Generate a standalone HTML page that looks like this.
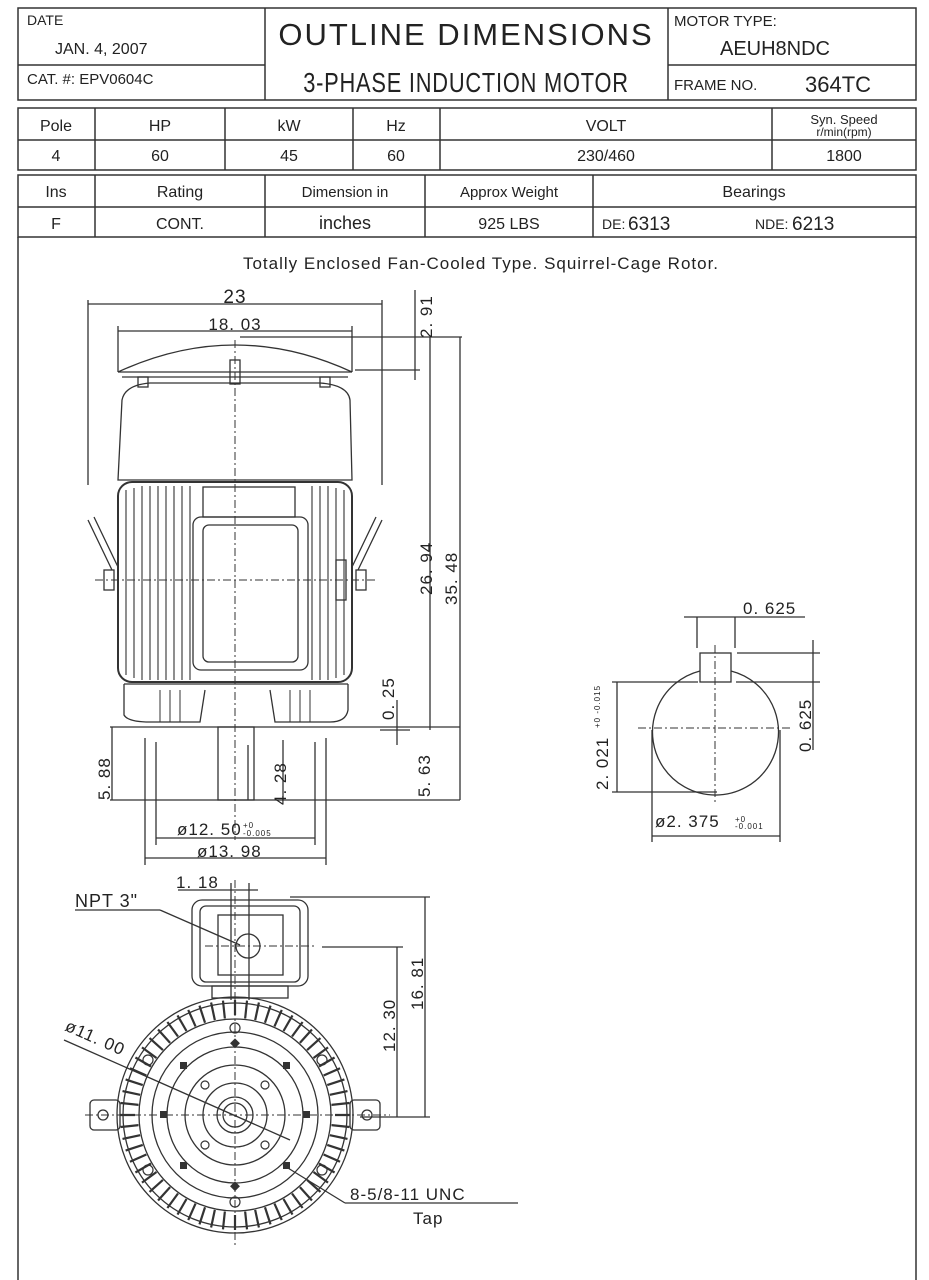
<!DOCTYPE html>
<html><head><meta charset="utf-8"><style>
html,body{margin:0;padding:0;background:#fff;}
svg{display:block;}
text{font-family:"Liberation Sans",sans-serif;fill:#222;}
.n{font-family:"Liberation Sans Narrow","Liberation Sans",sans-serif;}
</style></head><body>
<svg width="929" height="1280" viewBox="0 0 929 1280" xmlns="http://www.w3.org/2000/svg">
<g stroke="#333" fill="none" stroke-width="1.5">
<rect x="18" y="8" width="898" height="92"/>
<line x1="265" y1="8" x2="265" y2="100"/><line x1="668" y1="8" x2="668" y2="100"/>
<line x1="18" y1="65" x2="265" y2="65"/><line x1="668" y1="65" x2="916" y2="65"/>
<rect x="18" y="108" width="898" height="62"/>
<line x1="18" y1="140" x2="916" y2="140"/>
<line x1="95" y1="108" x2="95" y2="170"/><line x1="225" y1="108" x2="225" y2="170"/>
<line x1="353" y1="108" x2="353" y2="170"/><line x1="440" y1="108" x2="440" y2="170"/>
<line x1="772" y1="108" x2="772" y2="170"/>
<rect x="18" y="175" width="898" height="62"/>
<line x1="18" y1="207" x2="916" y2="207"/>
<line x1="95" y1="175" x2="95" y2="237"/><line x1="265" y1="175" x2="265" y2="237"/>
<line x1="425" y1="175" x2="425" y2="237"/><line x1="593" y1="175" x2="593" y2="237"/>
<line x1="18" y1="237" x2="18" y2="1280"/><line x1="916" y1="237" x2="916" y2="1280"/>
</g>
<g font-size="15">
<text x="27" y="25" font-size="14">DATE</text>
<text x="55" y="54" font-size="16">JAN.  4,  2007</text>
<text x="27" y="84" font-size="15">CAT.  #:   EPV0604C</text>
<text x="466" y="45" font-size="31" text-anchor="middle" letter-spacing="2" class="n">OUTLINE DIMENSIONS</text>
<text class="n" x="466" y="92" font-size="28" text-anchor="middle" letter-spacing="1" transform="translate(466,0) scale(0.78,1) translate(-466,0)">3-PHASE  INDUCTION  MOTOR</text>
<text x="674" y="26" font-size="15">MOTOR TYPE:</text>
<text x="775" y="55" font-size="20" text-anchor="middle">AEUH8NDC</text>
<text x="674" y="90" font-size="15">FRAME NO.</text>
<text x="805" y="92" font-size="22">364TC</text>
<g font-size="16" text-anchor="middle">
<text x="56" y="131">Pole</text><text x="160" y="131">HP</text><text x="289" y="131">kW</text><text x="396" y="131">Hz</text><text x="606" y="131">VOLT</text>
<text x="56" y="161">4</text><text x="160" y="161">60</text><text x="289" y="161">45</text><text x="396" y="161">60</text><text x="606" y="161">230/460</text><text x="844" y="161">1800</text>
<text x="56" y="197">Ins</text><text x="180" y="197">Rating</text><text x="345" y="197" font-size="15">Dimension in</text><text x="509" y="197" font-size="15">Approx Weight</text><text x="754" y="197">Bearings</text>
<text x="56" y="229">F</text><text x="180" y="229">CONT.</text><text x="345" y="229" font-size="18">inches</text><text x="509" y="229">925 LBS</text>
</g>
<text x="844" y="124" font-size="13" text-anchor="middle">Syn. Speed</text>
<text x="844" y="136" font-size="12" text-anchor="middle">r/min(rpm)</text>
<text x="602" y="229" font-size="14">DE:</text><text x="628" y="230" font-size="19">6313</text>
<text x="755" y="229" font-size="14">NDE:</text><text x="792" y="230" font-size="19">6213</text>
<text x="481" y="269" font-size="17" text-anchor="middle" letter-spacing="1">Totally Enclosed Fan-Cooled Type.  Squirrel-Cage Rotor.</text>
</g>

<g stroke="#333" fill="none" stroke-width="1.3">
<line x1="88" y1="304" x2="382" y2="304"/><line x1="88" y1="300" x2="88" y2="485"/><line x1="382" y1="300" x2="382" y2="485"/>
<line x1="118" y1="331" x2="352" y2="331"/><line x1="118" y1="326" x2="118" y2="372"/><line x1="352" y1="326" x2="352" y2="372"/>
<path d="M118 372 Q235 318 352 372"/>
<line x1="118" y1="372" x2="352" y2="372"/><line x1="122" y1="377" x2="348" y2="377"/>
<rect x="230" y="360" width="10" height="24"/>
<line x1="240" y1="337" x2="462" y2="337"/><line x1="355" y1="370" x2="420" y2="370"/>
<line x1="415" y1="290" x2="415" y2="380"/><line x1="460" y1="337" x2="460" y2="800"/>
<line x1="430" y1="337" x2="430" y2="730"/>
<path d="M122 400 Q125 385 150 383 L320 383 Q348 385 350 400 L352 480 L118 480 Z"/>
<rect x="138" y="377" width="10" height="10"/><rect x="320" y="377" width="10" height="10"/>
<rect x="118" y="482" width="234" height="200" rx="14" stroke-width="2"/>
<g stroke-width="1.1">
<line x1="126" y1="490" x2="126" y2="675"/><line x1="134" y1="488" x2="134" y2="678"/><line x1="142" y1="486" x2="142" y2="680"/><line x1="150" y1="486" x2="150" y2="680"/><line x1="158" y1="486" x2="158" y2="680"/><line x1="166" y1="486" x2="166" y2="680"/><line x1="174" y1="486" x2="174" y2="680"/><line x1="182" y1="486" x2="182" y2="680"/><line x1="190" y1="486" x2="190" y2="680"/>
<line x1="312" y1="486" x2="312" y2="680"/><line x1="320" y1="486" x2="320" y2="680"/><line x1="328" y1="486" x2="328" y2="680"/><line x1="336" y1="488" x2="336" y2="678"/><line x1="344" y1="490" x2="344" y2="675"/>
</g>
<rect x="203" y="487" width="92" height="30"/>
<rect x="193" y="517" width="115" height="153" rx="8"/>
<rect x="203" y="525" width="95" height="137" rx="6"/>
<rect x="336" y="560" width="10" height="40"/>
<path d="M88 520 L112 570 M94 517 L118 567"/><path d="M382 520 L358 570 M376 517 L352 567"/>
<rect x="104" y="570" width="10" height="20"/><rect x="356" y="570" width="10" height="20"/>
<path d="M124 684 L124 715 Q128 722 150 722 L200 722 L205 690 M270 690 L275 722 L330 722 Q346 722 348 710 L348 684"/>
<line x1="124" y1="684" x2="348" y2="684"/>
<g stroke-width="1"><line x1="160" y1="690" x2="160" y2="722"/><line x1="170" y1="690" x2="170" y2="722"/><line x1="180" y1="690" x2="180" y2="722"/><line x1="290" y1="690" x2="290" y2="722"/><line x1="300" y1="690" x2="300" y2="722"/><line x1="310" y1="690" x2="310" y2="722"/></g>
<line x1="110" y1="727" x2="460" y2="727"/>
<rect x="218" y="727" width="36" height="73"/>
<line x1="248" y1="745" x2="248" y2="800"/>
<line x1="110" y1="800" x2="460" y2="800"/>
<line x1="112" y1="727" x2="112" y2="800"/><line x1="283" y1="740" x2="283" y2="800"/>
<line x1="145" y1="738" x2="145" y2="865"/><line x1="326" y1="738" x2="326" y2="865"/>
<line x1="156" y1="742" x2="156" y2="845"/><line x1="315" y1="742" x2="315" y2="845"/>
<line x1="156" y1="838" x2="315" y2="838"/><line x1="145" y1="858" x2="326" y2="858"/>
<line x1="397" y1="700" x2="397" y2="745"/><line x1="380" y1="730" x2="410" y2="730"/>
</g>
<g stroke="#333" stroke-width="1" stroke-dasharray="8 3 2 3">
<line x1="235" y1="340" x2="235" y2="840"/><line x1="95" y1="580" x2="375" y2="580"/>
</g>
<g font-size="17" letter-spacing="1">
<text x="235" y="303" text-anchor="middle" font-size="19">23</text>
<text x="235" y="330" text-anchor="middle">18. 03</text>
<text transform="translate(432,338) rotate(-90)">2. 91</text>
<text transform="translate(432,595) rotate(-90)">26. 94</text>
<text transform="translate(457,605) rotate(-90)">35. 48</text>
<text transform="translate(394,720) rotate(-90)">0. 25</text>
<text transform="translate(430,797) rotate(-90)">5. 63</text>
<text transform="translate(110,800) rotate(-90)">5. 88</text>
<text transform="translate(286,805) rotate(-90)">4. 28</text>
<text x="177" y="835">ø12. 50</text><text x="243" y="828" font-size="8">+0</text><text x="243" y="836" font-size="8">-0.005</text>
<text x="197" y="857">ø13. 98</text>
</g>

<g stroke="#333" fill="none" stroke-width="1.3">
<path d="M700 671 A63 63 0 1 0 731 671"/>
<rect x="700" y="653" width="31" height="29"/>
<line x1="697" y1="617" x2="697" y2="648"/><line x1="735" y1="617" x2="735" y2="648"/>
<line x1="684" y1="617" x2="805" y2="617"/>
<line x1="737" y1="653" x2="820" y2="653"/><line x1="736" y1="682" x2="820" y2="682"/>
<line x1="813" y1="640" x2="813" y2="750"/>
<line x1="612" y1="682" x2="698" y2="682"/><line x1="612" y1="792" x2="717" y2="792"/>
<line x1="617" y1="682" x2="617" y2="792"/>
<line x1="652" y1="730" x2="652" y2="842"/><line x1="780" y1="730" x2="780" y2="842"/>
<line x1="652" y1="836" x2="780" y2="836"/>
</g>
<g stroke="#333" stroke-width="1" stroke-dasharray="8 3 2 3">
<line x1="715" y1="645" x2="715" y2="805"/><line x1="638" y1="728" x2="790" y2="728"/>
</g>
<g font-size="17" letter-spacing="1">
<text x="743" y="614">0. 625</text>
<text transform="translate(811,752) rotate(-90)">0. 625</text>
<text transform="translate(608,790) rotate(-90)">2. 021</text>
<text transform="translate(600,728) rotate(-90)" font-size="8">+0 -0.015</text>
<text x="655" y="827">ø2. 375</text><text x="735" y="822" font-size="8">+0</text><text x="735" y="829" font-size="8">-0.001</text>
</g>

<g stroke="#333" fill="none" stroke-width="1.3">
<line x1="178" y1="890" x2="258" y2="890"/>
<line x1="231" y1="883" x2="231" y2="1000"/><line x1="249" y1="883" x2="249" y2="1000"/>
<line x1="290" y1="897" x2="430" y2="897"/><line x1="322" y1="947" x2="403" y2="947"/>
<line x1="425" y1="897" x2="425" y2="1117"/><line x1="397" y1="947" x2="397" y2="1117"/>
<line x1="360" y1="1117" x2="430" y2="1117"/>
<rect x="192" y="900" width="116" height="86" rx="10"/>
<rect x="200" y="906" width="100" height="76" rx="6"/>
<rect x="218" y="915" width="65" height="60"/>
<circle cx="248" cy="946" r="12"/>
<rect x="212" y="986" width="76" height="12"/>
<line x1="75" y1="910" x2="160" y2="910"/><line x1="160" y1="910" x2="240" y2="945"/>
<circle cx="235" cy="1115" r="118"/><circle cx="235" cy="1115" r="112"/>
<circle cx="235" cy="1115" r="96"/><circle cx="235" cy="1115" r="83"/>
<circle cx="235" cy="1115" r="68"/><circle cx="235" cy="1115" r="50"/>
<circle cx="235" cy="1115" r="32"/><circle cx="235" cy="1115" r="18"/><circle cx="235" cy="1115" r="12"/>
<rect x="90" y="1100" width="30" height="30" rx="4"/><rect x="350" y="1100" width="30" height="30" rx="4"/>
<circle cx="103" cy="1115" r="5"/><circle cx="367" cy="1115" r="5"/>
<line x1="64" y1="1040" x2="290" y2="1140"/>
<line x1="283" y1="1165" x2="345" y2="1203"/><line x1="345" y1="1203" x2="518" y2="1203"/>
</g>
<g stroke="#333" stroke-width="2.2">
<path d="M235 1115 m0 -100 v-15 M235 1115 m0 100 v15 M235 1115 m100 0 h15 M235 1115 m-100 0 h-15"/>
<g id="fins">
<line x1="235" y1="1000" x2="235" y2="1018" transform="rotate(6 235 1115)"/><line x1="235" y1="1000" x2="235" y2="1018" transform="rotate(12 235 1115)"/><line x1="235" y1="1000" x2="235" y2="1018" transform="rotate(18 235 1115)"/><line x1="235" y1="1000" x2="235" y2="1018" transform="rotate(24 235 1115)"/><line x1="235" y1="1000" x2="235" y2="1018" transform="rotate(30 235 1115)"/><line x1="235" y1="1000" x2="235" y2="1018" transform="rotate(36 235 1115)"/><line x1="235" y1="1000" x2="235" y2="1018" transform="rotate(42 235 1115)"/><line x1="235" y1="1000" x2="235" y2="1018" transform="rotate(48 235 1115)"/><line x1="235" y1="1000" x2="235" y2="1018" transform="rotate(54 235 1115)"/><line x1="235" y1="1000" x2="235" y2="1018" transform="rotate(60 235 1115)"/><line x1="235" y1="1000" x2="235" y2="1018" transform="rotate(66 235 1115)"/><line x1="235" y1="1000" x2="235" y2="1018" transform="rotate(72 235 1115)"/><line x1="235" y1="1000" x2="235" y2="1018" transform="rotate(78 235 1115)"/><line x1="235" y1="1000" x2="235" y2="1018" transform="rotate(84 235 1115)"/>
</g>
<use href="#fins" transform="rotate(90 235 1115)"/>
<use href="#fins" transform="rotate(180 235 1115)"/>
<use href="#fins" transform="rotate(270 235 1115)"/>
</g>
<g stroke="#333" fill="none" stroke-width="1.2">
<circle cx="235" cy="1028" r="5"/><circle cx="235" cy="1202" r="5"/><circle cx="148" cy="1060" r="5"/><circle cx="322" cy="1060" r="5"/><circle cx="148" cy="1170" r="5"/><circle cx="322" cy="1170" r="5"/>
<circle cx="205" cy="1085" r="4"/><circle cx="265" cy="1085" r="4"/><circle cx="205" cy="1145" r="4"/><circle cx="265" cy="1145" r="4"/>
</g>
<g fill="#333">
<rect x="231" y="1040" width="7" height="7" transform="rotate(45 235 1044)"/><rect x="231" y="1183" width="7" height="7" transform="rotate(45 235 1187)"/>
<rect x="160" y="1111" width="7" height="7"/><rect x="303" y="1111" width="7" height="7"/>
<rect x="180" y="1062" width="7" height="7"/><rect x="283" y="1062" width="7" height="7"/><rect x="180" y="1162" width="7" height="7"/><rect x="283" y="1162" width="7" height="7"/>
</g>
<g stroke="#333" stroke-width="1" stroke-dasharray="8 3 2 3">
<line x1="235" y1="880" x2="235" y2="1245"/><line x1="85" y1="1115" x2="390" y2="1115"/><line x1="205" y1="946" x2="315" y2="946"/>
</g>
<g font-size="17" letter-spacing="1">
<text x="176" y="888">1. 18</text>
<text x="75" y="907" font-size="18">NPT 3"</text>
<text transform="translate(64,1030) rotate(24)">ø11. 00</text>
<text transform="translate(395,1052) rotate(-90)">12. 30</text>
<text transform="translate(423,1010) rotate(-90)">16. 81</text>
<text x="350" y="1200">8-5/8-11 UNC</text>
<text x="413" y="1224">Tap</text>
</g>
</svg>
</body></html>
